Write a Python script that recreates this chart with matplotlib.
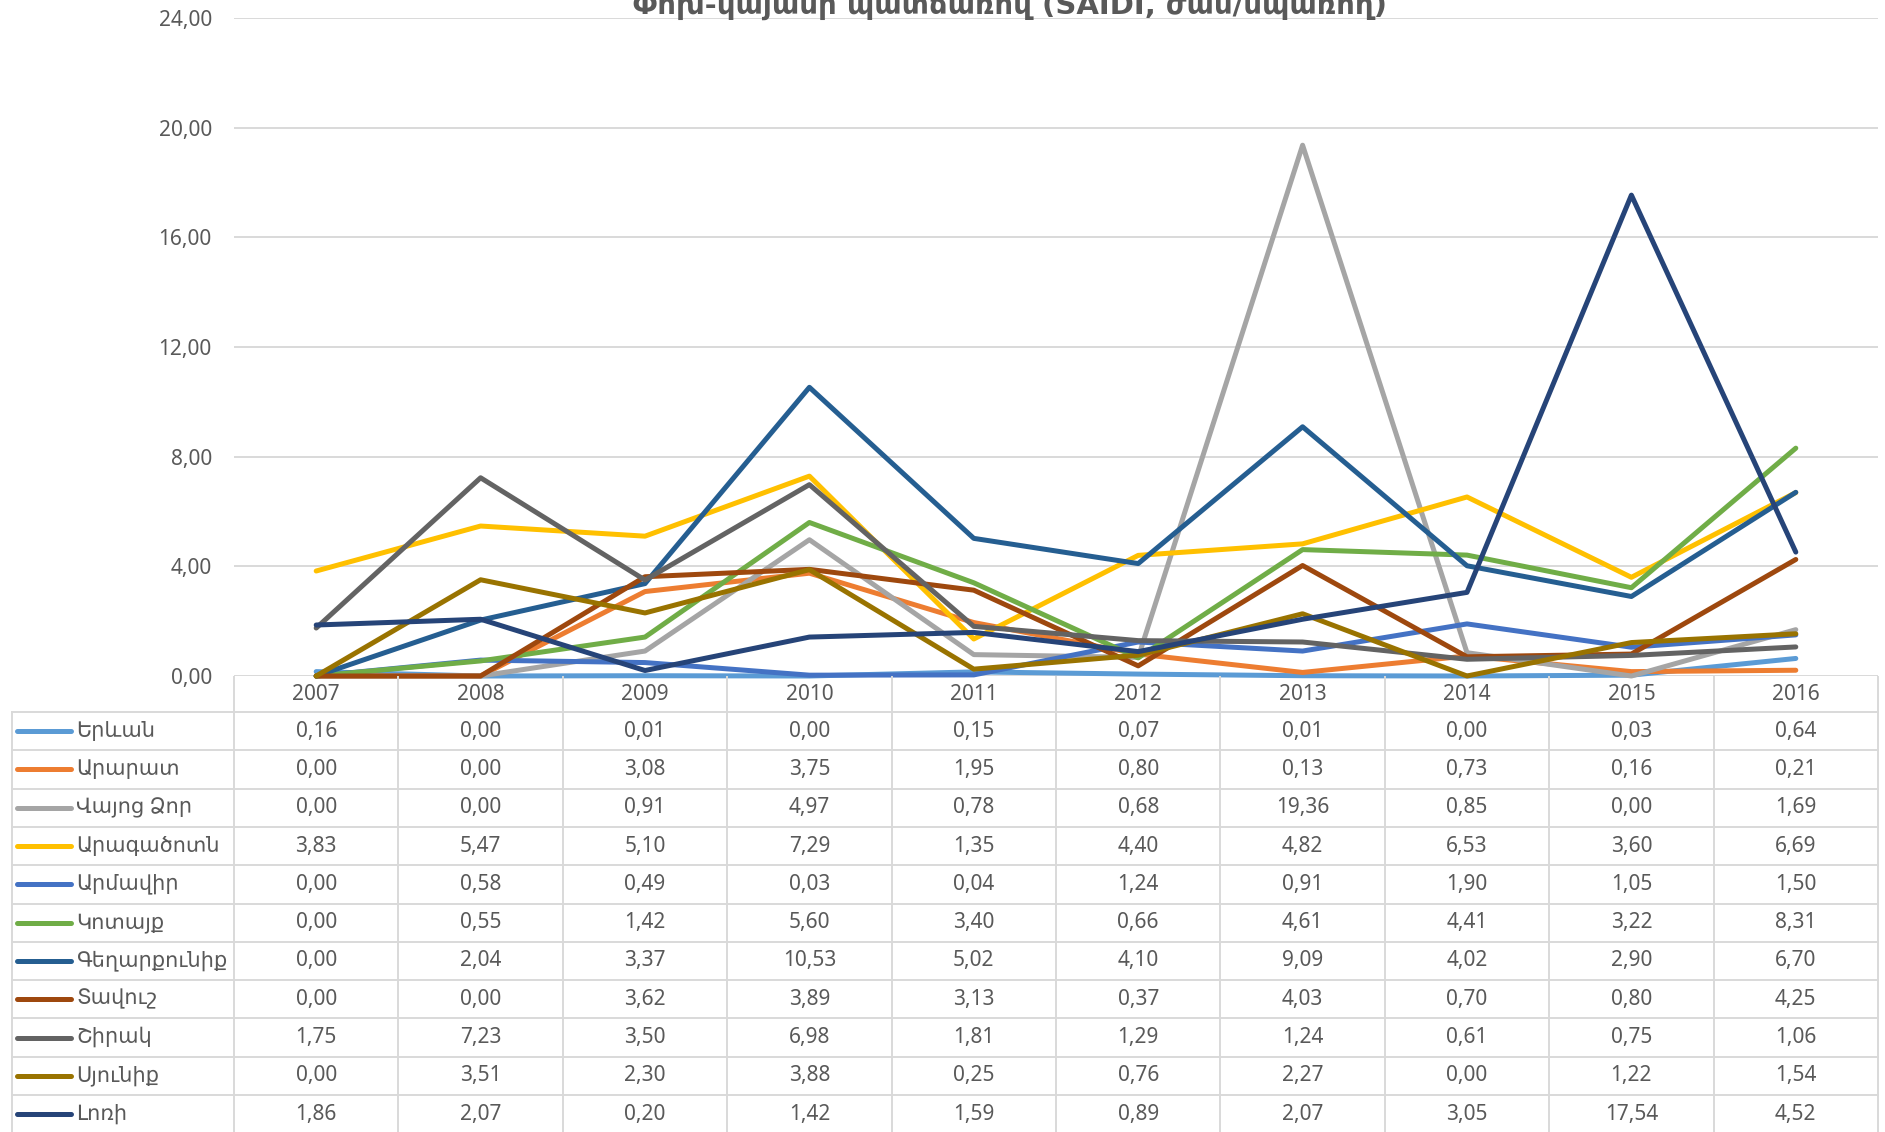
import matplotlib
matplotlib.use('Agg')
import matplotlib.pyplot as plt

plt.rcParams['font.family'] = ['Noto Sans', 'DejaVu Sans']

title = 'Փոխ-կայանի պատճառով (SAIDI, ժամ/սպառող)'
years = ['2007', '2008', '2009', '2010', '2011', '2012', '2013', '2014', '2015', '2016']
regions = ['Երևան', 'Արարատ', 'Վայոց Ձոր', 'Արագածոտն', 'Արմավիր', 'Կոտայք',
           'Գեղարքունիք', 'Տավուշ', 'Շիրակ', 'Սյունիք', 'Լոռի']

yerevan     = [0.16, 0.00, 0.01, 0.00, 0.15, 0.07, 0.01, 0.00, 0.03, 0.64]
ararat      = [0.00, 0.00, 3.08, 3.75, 1.95, 0.80, 0.13, 0.73, 0.16, 0.21]
vayots_dzor = [0.00, 0.00, 0.91, 4.97, 0.78, 0.68, 19.36, 0.85, 0.00, 1.69]
aragatsotn  = [3.83, 5.47, 5.10, 7.29, 1.35, 4.40, 4.82, 6.53, 3.60, 6.69]
armavir     = [0.00, 0.58, 0.49, 0.03, 0.04, 1.24, 0.91, 1.90, 1.05, 1.50]
kotayk      = [0.00, 0.55, 1.42, 5.60, 3.40, 0.66, 4.61, 4.41, 3.22, 8.31]
gegharkunik = [0.00, 2.04, 3.37, 10.53, 5.02, 4.10, 9.09, 4.02, 2.90, 6.70]
tavush      = [0.00, 0.00, 3.62, 3.89, 3.13, 0.37, 4.03, 0.70, 0.80, 4.25]
shirak      = [1.75, 7.23, 3.50, 6.98, 1.81, 1.29, 1.24, 0.61, 0.75, 1.06]
syunik      = [0.00, 3.51, 2.30, 3.88, 0.25, 0.76, 2.27, 0.00, 1.22, 1.54]
lori        = [1.86, 2.07, 0.20, 1.42, 1.59, 0.89, 2.07, 3.05, 17.54, 4.52]

series = [yerevan, ararat, vayots_dzor, aragatsotn, armavir, kotayk,
          gegharkunik, tavush, shirak, syunik, lori]
colors = ['#5B9BD5', '#ED7D31', '#A5A5A5', '#FFC000', '#4472C4', '#70AD47',
          '#255E91', '#9E480E', '#636363', '#997300', '#264478']

TXT = '#595959'
GRID = '#D9D9D9'
FS = 15
LW = 3.6
W, H = 1885, 1132
fig = plt.figure(figsize=(W / 100, H / 100), dpi=100)

# plot area in pixels
L, R, T, B = 234, 1878, 18, 676
ax = fig.add_axes([L / W, (H - B) / H, (R - L) / W, (B - T) / H])
x = list(range(len(years)))
for vals, c in zip(series, colors):
    ax.plot(x, vals, color=c, lw=LW, solid_capstyle='round', clip_on=False)
ax.set_xlim(-0.5, len(years) - 0.5)
ax.set_ylim(0, 24)
ax.set_yticks(range(0, 25, 4))
ax.set_yticklabels([f'{v:.2f}'.replace('.', ',') for v in range(0, 25, 4)],
                   fontsize=FS, color=TXT)
ax.tick_params(axis='y', length=0, pad=16)
ax.set_xticks([])
ax.grid(axis='y', color=GRID, lw=1.4)
ax.set_axisbelow(True)
for s in ax.spines.values():
    s.set_visible(False)

fig.text(1010 / W, 1 - 14 / H, title, ha='center', va='baseline',
         fontsize=21, fontweight='bold', color=TXT, family='DejaVu Sans')

# data table below the plot
unit = (R - L) / len(years)
tx0 = -0.5 - L / unit
tx1 = len(years) - 0.5 + (W - R) / unit
row_h = 38.3
head = 36 / row_h
tab = fig.add_axes([0, 0, 1, (H - B) / H])
tab.set_xlim(tx0, tx1)
tab.set_ylim(-head + (H - B) / row_h, -head)
tab.axis('off')


def px(p):
    return tx0 + p / unit


for i in range(len(years) + 1):
    tab.plot([i - 0.5, i - 0.5], [-head, len(regions)], color=GRID, lw=1.4)
tab.plot([px(12), px(12)], [0, len(regions)], color=GRID, lw=1.4)
for j in range(len(regions)):
    tab.plot([px(12), len(years) - 0.5], [j, j], color=GRID, lw=1.4)

for i, yr in enumerate(years):
    tab.text(i, -head / 2, yr, ha='center', va='center', fontsize=FS, color=TXT)

for j, (name, vals, c) in enumerate(zip(regions, series, colors)):
    yc = j + 0.5
    tab.plot([px(17), px(71)], [yc, yc], color=c, lw=LW, solid_capstyle='round')
    tab.text(px(76), yc, name, ha='left', va='center', fontsize=FS, color=TXT)
    for i, v in enumerate(vals):
        tab.text(i, yc, f'{v:.2f}'.replace('.', ','), ha='center', va='center',
                 fontsize=FS, color=TXT)

plt.savefig('out.png', dpi=100)
